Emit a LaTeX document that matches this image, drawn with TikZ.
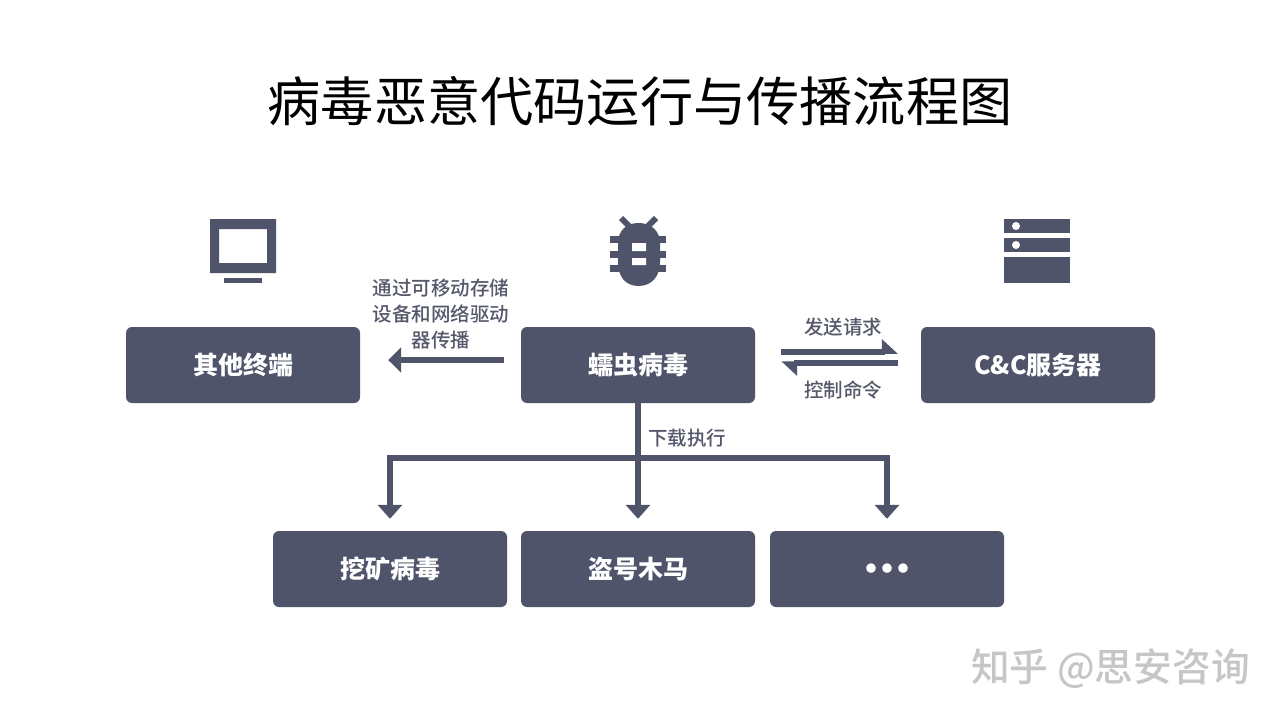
\documentclass[tikz,border=0pt]{standalone}
\usepackage{fontspec}
\setmainfont{Noto Sans CJK SC}
\newfontfamily\medcjk{Noto Sans CJK SC Medium}
\usetikzlibrary{arrows.meta}
\definecolor{slate}{HTML}{50546A}
\definecolor{labelgrey}{HTML}{55586A}
\definecolor{markgrey}{HTML}{C6C6C6}
\tikzset{
  x=1pt,y=-1pt,
  box/.style={fill=slate,rounded corners=6pt,minimum width=234pt,minimum height=76pt,inner sep=0pt,text=white,font=\fontsize{25}{25}\selectfont\bfseries},
  lab/.style={text=labelgrey,inner sep=0pt,align=center,font=\fontsize{19.5}{26}\selectfont\medcjk},
  link/.style={draw=slate,line width=5.5pt},
  arr/.style={link,-{Triangle[length=14pt,width=24pt]}},
  harp/.style={link,-{Triangle[harpoon,length=14pt,width=25pt]}},
  icon/.style={fill=slate,draw=none}
}
\begin{document}
\begin{tikzpicture}
\useasboundingbox[fill=white] (0,0) rectangle (1280,720);
\node[inner sep=0pt,font=\fontsize{53.2}{53.2}\selectfont] (title) at (640,101) {病毒恶意代码运行与传播流程图};
% boxes
\node[box] (other) at (243,365) {其他终端};
\node[box] (worm) at (638,365) {蠕虫病毒};
\node[box] (cc) at (1038,365) {C\&C服务器};
\node[box] (miner) at (390,569) {挖矿病毒};
\node[box] (trojan) at (638,569) {盗号木马};
\node[box,font=\fontsize{34}{34}\selectfont\bfseries] (more) at (887,569) {\raisebox{-12pt}[0pt][0pt]{\makebox[16pt]{•}\makebox[16pt]{•}\makebox[16pt]{•}}};
% labels
\node[lab] (l1) at (441,314) {通过可移动存储\\设备和网络驱动\\器传播};
\node[lab] (l2) at (843,327) {发送请求};
\node[lab] (l3) at (843,390) {控制命令};
\node[lab,anchor=west] (l4) at (648,438) {下载执行};
% connectors
\draw[arr,-{Triangle[length=13pt,width=25pt]},shorten <=17pt,shorten >=28pt] ([yshift=5pt]worm.west) -- ([yshift=5pt]other.east);
\draw[harp,shorten <=26pt,shorten >=23pt] ([yshift=13pt]worm.east) -- ([yshift=13pt]cc.west);
\draw[harp,shorten <=23pt,shorten >=26pt] ([yshift=2pt]cc.west) -- ([yshift=2pt]worm.east);
\coordinate (bus) at (638,458);
\draw[arr,shorten >=12pt] (worm.south) -- (trojan.north);
\draw[arr,shorten >=12pt] (bus) -| (miner.north);
\draw[arr,shorten >=12pt] (bus) -| (more.north);
% monitor icon
\fill[icon,even odd rule] (210,219) rectangle (276,273) (219,229) rectangle (267,263);
\fill[icon] (224,278) rectangle (262,283);
% bug icon
\draw[slate,line width=6pt] (621,218) -- (631,228);
\draw[slate,line width=6pt] (656,218) -- (646,228);
\fill[icon]
  (638.5,223) .. controls (626,223) and (618,231) .. (618,243)
  -- (618,262) .. controls (618,276) and (625,286) .. (638.5,286)
  .. controls (652,286) and (660,276) .. (660,262)
  -- (660,243) .. controls (660,231) and (651,223) .. (638.5,223) -- cycle;
\fill[icon] (610,236) rectangle (666,243);
\fill[icon] (610,251) rectangle (666,258);
\fill[icon] (610,265) rectangle (666,272);
\fill[white] (632,243) rectangle (646,251) (632,258) rectangle (646,265);
% server icon
\fill[icon] (1004,219) rectangle (1070,233);
\fill[icon] (1004,238) rectangle (1070,252);
\fill[icon] (1004,257) rectangle (1070,283);
\fill[white] (1016,226) circle[radius=4] (1016,245) circle[radius=4];
% watermark
\node[inner sep=0pt,text=markgrey,anchor=west,font=\fontsize{38.7}{38.7}\selectfont\medcjk] (mark) at (971,669) {知乎\ @思安咨询};
\end{tikzpicture}
\end{document}
